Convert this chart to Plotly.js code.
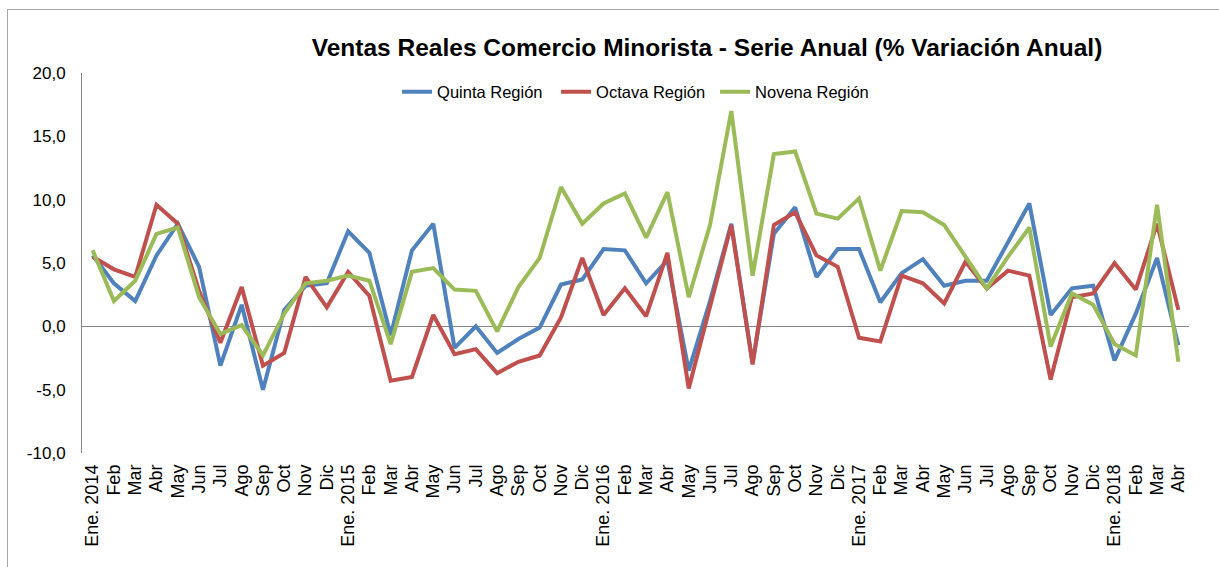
<!DOCTYPE html>
<html>
<head>
<meta charset="utf-8">
<script src="https://cdn.plot.ly/plotly-3.0.1.min.js"></script>
<style>
  body { margin: 0; background: #fff; }
  #myChart { position: absolute; left: 0; top: 0; width: 1219px; height: 567px; }
  #frame { position: absolute; left: 7px; top: 9px; width: 1212px; height: 570px;
           border: 1px solid #a6a6a6; pointer-events: none; }
</style>
</head>
<body>
<div id="myChart"></div>
<div id="frame"></div>
<script>
// Meses (etiquetas del eje)
var meses = [
  "Ene. 2014", "Feb", "Mar", "Abr", "May", "Jun", "Jul", "Ago", "Sep", "Oct", "Nov", "Dic",
  "Ene. 2015", "Feb", "Mar", "Abr", "May", "Jun", "Jul", "Ago", "Sep", "Oct", "Nov", "Dic",
  "Ene. 2016", "Feb", "Mar", "Abr", "May", "Jun", "Jul", "Ago", "Sep", "Oct", "Nov", "Dic",
  "Ene. 2017", "Feb", "Mar", "Abr", "May", "Jun", "Jul", "Ago", "Sep", "Oct", "Nov", "Dic",
  "Ene. 2018", "Feb", "Mar", "Abr"
];

var quinta = [
  5.6, 3.4, 2.0, 5.6, 8.1, 4.7, -3.1, 1.7, -5.0, 1.3, 3.2, 3.4,
  7.5, 5.8, -0.7, 6.0, 8.1, -1.7, 0.0, -2.1, -1.0, -0.1, 3.3, 3.7,
  6.1, 6.0, 3.4, 5.2, -3.5, 2.0, 8.1, -2.9, 7.3, 9.4, 3.9, 6.1,
  6.1, 1.9, 4.2, 5.3, 3.2, 3.6, 3.6, 6.6, 9.7, 0.9, 3.0, 3.2,
  -2.7, 1.0, 5.4, -1.5
];

var octava = [
  5.5, 4.5, 3.9, 9.6, 8.1, 2.8, -1.3, 3.1, -3.1, -2.1, 3.9, 1.5,
  4.3, 2.4, -4.3, -4.0, 0.9, -2.2, -1.8, -3.7, -2.8, -2.3, 0.7, 5.4,
  0.9, 3.0, 0.8, 5.8, -4.9, 1.5, 8.0, -3.0, 8.0, 9.0, 5.6, 4.7,
  -0.9, -1.2, 4.0, 3.4, 1.8, 5.1, 3.0, 4.4, 4.0, -4.2, 2.3, 2.6,
  5.0, 2.9, 8.1, 1.3
];

var novena = [
  6.0, 2.0, 3.6, 7.3, 7.8, 2.3, -0.6, 0.1, -2.3, 1.0, 3.4, 3.6,
  4.0, 3.6, -1.4, 4.3, 4.6, 2.9, 2.8, -0.4, 3.1, 5.4, 11.0, 8.1,
  9.7, 10.5, 7.0, 10.6, 2.3, 8.0, 17.0, 4.0, 13.6, 13.8, 8.9, 8.5,
  10.1, 4.4, 9.1, 9.0, 8.0, 5.5, 3.0, 5.5, 7.8, -1.6, 2.6, 1.7,
  -1.4, -2.3, 9.6, -2.8
];

var yTicks = [-10, -5, 0, 5, 10, 15, 20];
var yLabels = ["-10,0", "-5,0", "0,0", "5,0", "10,0", "15,0", "20,0"];

var idx = meses.map(function (m, i) { return i; });
var fuente = "Arial, 'Liberation Sans', sans-serif";

function serie(nombre, valores, color) {
  return {
    x: idx,
    y: valores,
    name: nombre,
    type: "scatter",
    mode: "lines",
    line: { color: color, width: 4 }
  };
}

var data = [
  serie("Quinta Región", quinta, "#4F81BD"),
  serie("Octava Región", octava, "#C0504D"),
  serie("Novena Región", novena, "#9BBB59")
];

var layout = {
  width: 1219,
  height: 567,
  margin: { l: 82, r: 30, t: 73, b: 114 },
  paper_bgcolor: "#fff",
  plot_bgcolor: "#fff",
  font: { family: fuente, size: 17, color: "#000" },
  title: {
    text: "<b>Ventas Reales Comercio Minorista - Serie Anual (% Variación Anual)</b>",
    font: { family: fuente, size: 24.5, color: "#000" },
    xref: "container", x: 0.58, xanchor: "center",
    yref: "container", y: 0.917, yanchor: "middle"
  },
  showlegend: true,
  legend: {
    orientation: "h",
    x: 0.2846, xanchor: "left",
    y: 0.95, yanchor: "middle",
    font: { family: fuente, size: 16.5, color: "#000" },
    entrywidth: 114,
    entrywidthmode: "pixels",
    bgcolor: "rgba(0,0,0,0)"
  },
  xaxis: {
    range: [-0.5, meses.length - 0.5],
    tickmode: "array",
    tickvals: idx,
    ticktext: meses,
    tickangle: -90,
    showgrid: false,
    zeroline: false,
    showline: false,
    ticks: "",
    ticklabelstandoff: 7,
    tickfont: { family: fuente, size: 18, color: "#000" }
  },
  yaxis: {
    range: [-10, 20],
    tickmode: "array",
    tickvals: yTicks,
    ticktext: yLabels,
    showgrid: false,
    zeroline: true,
    zerolinecolor: "#868686",
    zerolinewidth: 1,
    showline: true,
    linecolor: "#868686",
    linewidth: 1,
    ticks: "",
    ticklabelstandoff: 12,
    tickfont: { family: fuente, size: 17, color: "#000" }
  }
};

Plotly.newPlot("myChart", data, layout, { staticPlot: true });
</script>
</body>
</html>
